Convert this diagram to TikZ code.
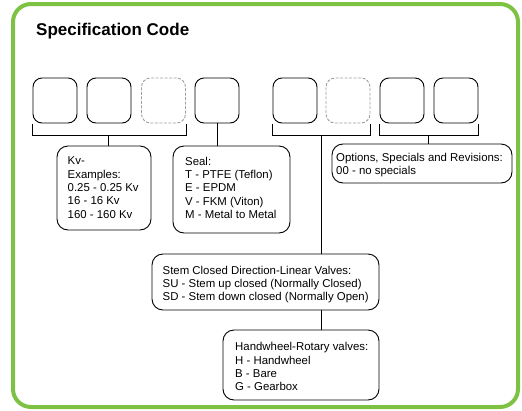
\documentclass[tikz,border=0pt]{standalone}
\usepackage{fontspec}
\setmainfont{Liberation Sans}
\usepackage{xcolor}
\usetikzlibrary{positioning}
\definecolor{framegreen}{RGB}{125,194,66}
\tikzset{
  codebox/.style={draw, line width=0.9pt, rounded corners=9pt, minimum width=44pt, minimum height=45pt, inner sep=0pt},
  optbox/.style={codebox, draw=gray!75, dash pattern=on 3pt off 1.5pt},
  infobox/.style={draw, line width=0.9pt, rounded corners=11pt, inner sep=0pt},
  infotext/.style={anchor=north west, align=left, inner sep=0pt, font=\fontsize{11.4}{13.3}\selectfont},
}

\begin{document}
\begin{tikzpicture}[x=1pt, y=-1pt]
    \useasboundingbox (0,0) rectangle (522,410);
    \draw[framegreen, line width=4pt, rounded corners=18pt] (13,4) rectangle (518,407);
    \node[anchor=base west, inner sep=0pt, font=\fontsize{17}{20}\selectfont\bfseries] (title) at (36,35) {Specification Code};
    % code boxes
    \node[codebox] (c1) at (55,100.5) {};
    \node[codebox] (c2) at (109,100.5) {};
    \node[optbox] (c3) at (163.5,100.5) {};
    \node[codebox] (c4) at (217,100.5) {};
    \node[codebox] (c5) at (295,100.5) {};
    \node[optbox] (c6) at (348,100.5) {};
    \node[codebox] (c7) at (402,100.5) {};
    \node[codebox] (c8) at (456,100.5) {};
    % brackets
    \draw[line width=0.9pt] ([yshift=-1pt]c1.south west) -- ++(0,11) -| ([yshift=-1pt]c3.south east);
    \draw[line width=0.9pt] ([yshift=-1pt]c5.south west) -- ++(0,11) -| ([yshift=-1pt]c6.south east);
    \draw[line width=0.9pt] ([yshift=-1pt]c7.south west) -- ++(0,11) -| ([yshift=-1pt]c8.south east);
    \coordinate (b1) at (108,135);
    \coordinate (b2) at (321,135);
    \coordinate (b3) at (428,135);
    % Kv
    \node[infobox, minimum width=94pt, minimum height=84pt] (kv) at (104,188) {};
    \node[infotext] (kvtext) at (67.5,156.8) {Kv-\\Examples:\\0.25 - 0.25 Kv\\16 - 16 Kv\\160 - 160 Kv};
    \draw[line width=0.9pt] (b1) -- (b1 |- kv.north);
    % seal
    \node[infobox, minimum width=117pt, minimum height=87pt] (seal) at (231.5,189.5) {};
    \node[infotext] (sealtext) at (185,156.8) {Seal:\\T - PTFE (Teflon)\\E - EPDM\\V - FKM (Viton)\\M - Metal to Metal};
    \draw[line width=0.9pt] (c4.south) -- (c4.south |- seal.north);
    % options
    \node[infobox, minimum width=180pt, minimum height=39pt] (opts) at (422,163.5) {};
    \node[infotext] (optstext) at (336,152.8) {Options, Specials and Revisions:\\00 - no specials};
    \draw[line width=0.9pt] (b3) -- (b3 |- opts.north);
    % stem
    \node[infobox, minimum width=227pt, minimum height=56pt] (stem) at (265.5,282) {};
    \node[infotext] (stemtext) at (162.5,265.8) {Stem Closed Direction-Linear Valves:\\SU - Stem up closed (Normally Closed)\\SD - Stem down closed (Normally Open)};
    \draw[line width=0.9pt] (b2) -- (b2 |- stem.north);
    % handwheel
    \node[infobox, minimum width=156pt, minimum height=70pt] (hand) at (301,365) {};
    \node[infotext] (handtext) at (235,342.3) {Handwheel-Rotary valves:\\H - Handwheel\\B - Bare\\G - Gearbox};
    \draw[line width=0.9pt] (b2 |- stem.south) -- (b2 |- hand.north);
\end{tikzpicture}
\end{document}
